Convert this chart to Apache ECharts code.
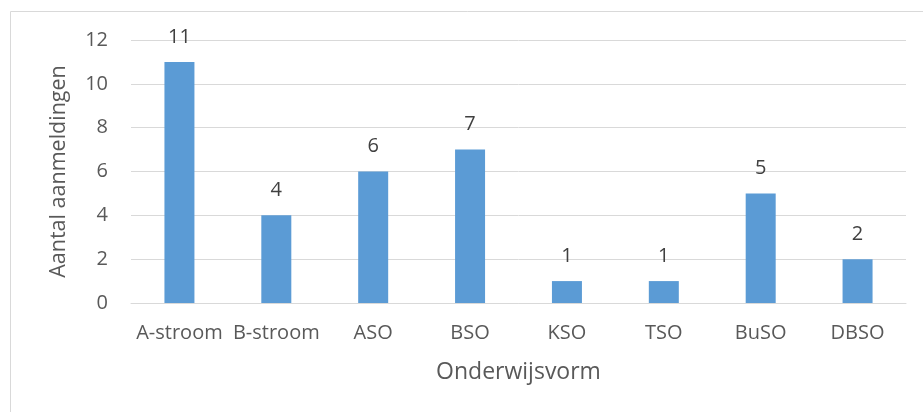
<!DOCTYPE html>
<html><head><meta charset="utf-8">
<script src="https://cdn.jsdelivr.net/npm/echarts@6/dist/echarts.min.js"></script>
<style>html,body{margin:0;padding:0;background:#fff}#c{width:923px;height:412px}</style>
</head><body><div id="c"></div>
<script>
const categories = ['A-stroom','B-stroom','ASO','BSO','KSO','TSO','BuSO','DBSO'];
const values = [11,4,6,7,1,1,5,2];
const yTicks = [0,2,4,6,8,10,12];
const xTitle = 'Onderwijsvorm';
const yTitle = 'Aantal aanmeldingen';
const FONT = 'Open Sans';
const chart = echarts.init(document.getElementById('c'));
chart.setOption({
  animation:false,
  graphic:[{type:'rect',shape:{x:10.5,y:11.5,width:1000,height:500},style:{fill:'none',stroke:'#d9d9d9',lineWidth:1}}],
  grid:{left:131,right:17,top:40,bottom:109},
  xAxis:{type:'category',data:categories,
    axisLine:{lineStyle:{color:'#d9d9d9'}},axisTick:{show:false},
    axisLabel:{color:'#595959',fontFamily:FONT,fontSize:20,margin:20,interval:0},
    name:xTitle,nameLocation:'middle',nameGap:58,nameMoveOverlap:false,
    nameTextStyle:{color:'#595959',fontFamily:FONT,fontSize:23}},
  yAxis:{type:'value',min:yTicks[0],max:yTicks[yTicks.length-1],interval:2,
    axisLine:{show:false},axisTick:{show:false},
    splitLine:{lineStyle:{color:'#d9d9d9'}},
    axisLabel:{color:'#595959',fontFamily:FONT,fontSize:20,margin:23},
    name:yTitle,nameLocation:'middle',nameGap:61,nameRotate:90,nameMoveOverlap:false,
    nameTextStyle:{color:'#595959',fontFamily:FONT,fontSize:21.5}},
  series:[{type:'bar',data:values,barWidth:30,
    itemStyle:{color:'#5b9bd5'},
    label:{show:true,position:'top',distance:15,color:'#404040',fontFamily:FONT,fontSize:20}}]
});
</script></body></html>
